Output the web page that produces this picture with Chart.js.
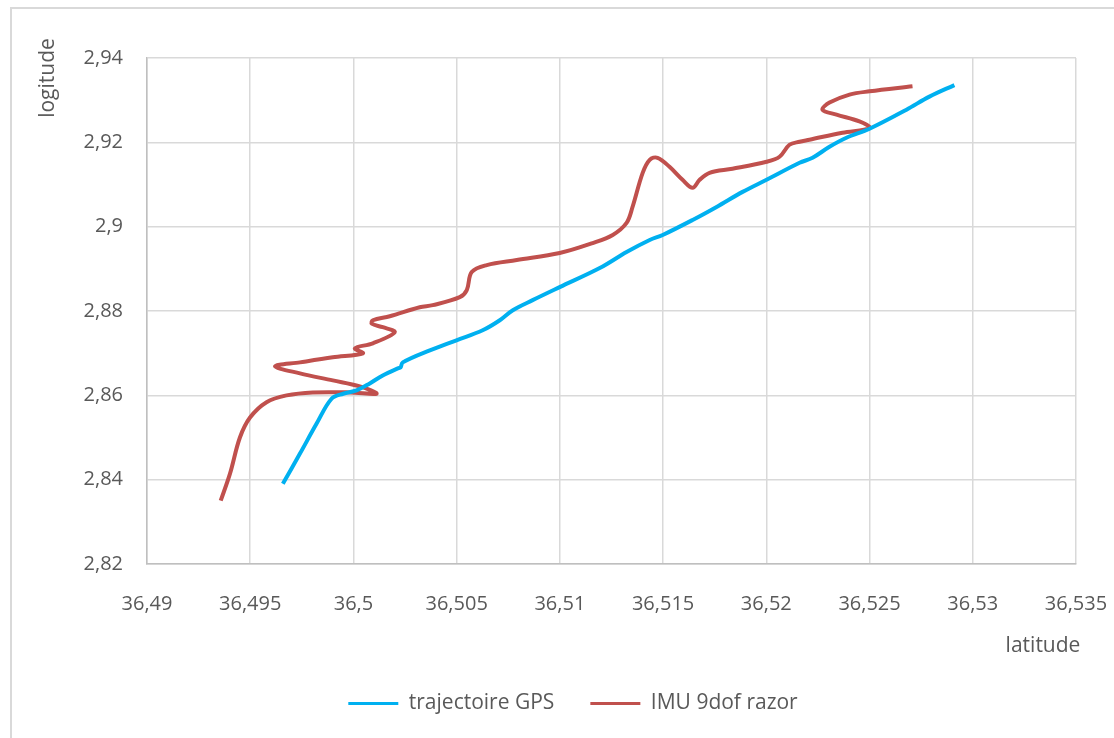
<!DOCTYPE html>
<html>
<head>
<meta charset="utf-8">
<title>trajectoire</title>
<script src="https://cdn.jsdelivr.net/npm/chart.js@4.4.1/dist/chart.umd.min.js"></script>
<style>
  html, body { margin: 0; padding: 0; background: #fff; }
  #wrap { width: 1114px; height: 738px; }
</style>
</head>
<body>
<div id="wrap"><canvas id="trajChart" width="1114" height="738"></canvas></div>
<script>
// trajectoire GPS
const gpsLat = [36.49658, 36.49741, 36.49821, 36.49894, 36.49950, 36.50015, 36.50079, 36.50142,
  36.50215, 36.50228, 36.50239, 36.50370, 36.50499, 36.50626, 36.50709, 36.50772, 36.50868,
  36.50999, 36.51193, 36.51323, 36.51435, 36.51498, 36.51643, 36.51759, 36.51885, 36.52001,
  36.52161, 36.52224, 36.52306, 36.52388, 36.52500, 36.52679, 36.52790, 36.52911];
const gpsLon = [2.83905, 2.84618, 2.85325, 2.85919, 2.86038, 2.86117, 2.86283, 2.86473,
  2.86640, 2.86660, 2.86782, 2.87068, 2.87306, 2.87543, 2.87781, 2.88019, 2.88257,
  2.88566, 2.89018, 2.89398, 2.89684, 2.89803, 2.90159, 2.90468, 2.90825, 2.91111,
  2.91515, 2.91634, 2.91895, 2.92109, 2.92323, 2.92775, 2.93084, 2.93358];

// IMU 9dof razor
const imuLat = [36.49357, 36.49402, 36.49450, 36.49499, 36.49579, 36.49676, 36.49803, 36.49983,
  36.50112, 36.50031, 36.49900, 36.49741, 36.49620, 36.49741, 36.49900, 36.50046, 36.50007,
  36.50094, 36.50200, 36.50142, 36.50089, 36.50094, 36.50176, 36.50321, 36.50384, 36.50515,
  36.50549, 36.50573, 36.50646, 36.50791, 36.50999, 36.51159, 36.51256, 36.51323, 36.51352,
  36.51401, 36.51435, 36.51473, 36.51531, 36.51594, 36.51643, 36.51677, 36.51725, 36.51836,
  36.52001, 36.52064, 36.52112, 36.52161, 36.52209, 36.52369, 36.52500, 36.52451, 36.52340,
  36.52272, 36.52306, 36.52403, 36.52500, 36.52708];
const imuLon = [2.83501, 2.84143, 2.84999, 2.85474, 2.85838, 2.85998, 2.86069, 2.86069,
  2.86038, 2.86212, 2.86354, 2.86521, 2.86687, 2.86782, 2.86901, 2.86996, 2.87115,
  2.87234, 2.87496, 2.87615, 2.87698, 2.87781, 2.87876, 2.88090, 2.88138, 2.88328,
  2.88495, 2.88923, 2.89089, 2.89208, 2.89375, 2.89612, 2.89803, 2.90088, 2.90468,
  2.91277, 2.91586, 2.91634, 2.91420, 2.91111, 2.90920, 2.91111, 2.91277, 2.91372,
  2.91539, 2.91658, 2.91943, 2.92014, 2.92062, 2.92228, 2.92340, 2.92497, 2.92656,
  2.92775, 2.92942, 2.93132, 2.93210, 2.93329];

const xTicks = [36.49, 36.495, 36.5, 36.505, 36.51, 36.515, 36.52, 36.525, 36.53, 36.535];
const yTicks = [2.82, 2.84, 2.86, 2.88, 2.9, 2.92, 2.94];

const FONT = "'Open Sans', sans-serif";
const TEXT = "#595959";

function toPoints(xs, ys) {
  return xs.map((x, i) => ({ x: x, y: ys[i] }));
}

// virgule décimale
function fmt(v) {
  return String(Number(v.toFixed(3))).replace(".", ",");
}

// cadre gris autour du graphique + titres des axes
const decor = {
  id: "decor",
  afterLayout(chart) {
    // légende un peu décalée vers la droite
    if (chart.legend) {
      chart.legend.left += 35;
      chart.legend.right += 35;
    }
  },
  beforeDraw(chart) {
    const c = chart.ctx;
    c.save();
    c.strokeStyle = "#d9d9d9";
    c.lineWidth = 2;
    c.strokeRect(11, 8, 1300, 900);
    c.restore();
  },
  afterDraw(chart) {
    const c = chart.ctx;
    const a = chart.chartArea;
    c.save();
    c.fillStyle = TEXT;
    c.font = "21px " + FONT;
    c.textAlign = "center";
    c.textBaseline = "middle";
    c.fillText("latitude", a.right - 33, a.bottom + 82);
    c.translate(a.left - 99, a.top + 20);
    c.rotate(-Math.PI / 2);
    c.fillText("logitude", 0, 0);
    c.restore();
  }
};

new Chart(document.getElementById("trajChart"), {
  type: "scatter",
  data: {
    datasets: [{
      label: "trajectoire GPS",
      data: toPoints(gpsLat, gpsLon),
      showLine: true,
      borderColor: "#00b0f0",
      backgroundColor: "#00b0f0",
      borderWidth: 4,
      pointRadius: 0,
      tension: 0.35
    }, {
      label: "IMU 9dof razor",
      data: toPoints(imuLat, imuLon),
      showLine: true,
      borderColor: "#c0504d",
      backgroundColor: "#c0504d",
      borderWidth: 4,
      pointRadius: 0,
      tension: 0.35
    }]
  },
  options: {
    responsive: false,
    animation: false,
    layout: { padding: { left: 0, top: 58, right: 38, bottom: 14 } },
    scales: {
      x: {
        type: "linear",
        min: xTicks[0],
        max: xTicks[xTicks.length - 1],
        afterBuildTicks(scale) { scale.ticks = xTicks.map(v => ({ value: v })); },
        afterFit(scale) {
          scale.height = 93;
          scale.paddingLeft = 0;
          scale.paddingRight = 0;
        },
        grid: { color: "#d9d9d9", lineWidth: 1.5, drawTicks: false },
        border: { color: "#bfbfbf", width: 1.5 },
        ticks: {
          padding: 28,
          color: TEXT,
          font: { family: FONT, size: 20 },
          maxRotation: 0,
          autoSkip: false,
          callback: v => fmt(v)
        }
      },
      y: {
        type: "linear",
        min: yTicks[0],
        max: yTicks[yTicks.length - 1],
        afterBuildTicks(scale) { scale.ticks = yTicks.map(v => ({ value: v })); },
        afterFit(scale) {
          scale.width = 147;
          scale.paddingTop = 0;
          scale.paddingBottom = 0;
        },
        grid: { color: "#d9d9d9", lineWidth: 1.5, drawTicks: false },
        border: { color: "#bfbfbf", width: 1.5 },
        ticks: {
          padding: 24,
          color: TEXT,
          font: { family: FONT, size: 20 },
          callback: v => fmt(v)
        }
      }
    },
    plugins: {
      legend: {
        position: "bottom",
        labels: {
          boxWidth: 50,
          boxHeight: 3,
          padding: 36,
          color: TEXT,
          font: { family: FONT, size: 21 },
          generateLabels(chart) {
            const items = Chart.defaults.plugins.legend.labels.generateLabels(chart);
            items.forEach(it => { it.lineWidth = 0; it.fillStyle = it.strokeStyle; });
            return items;
          }
        }
      },
      tooltip: { enabled: false }
    }
  },
  plugins: [decor]
});
</script>
</body>
</html>
